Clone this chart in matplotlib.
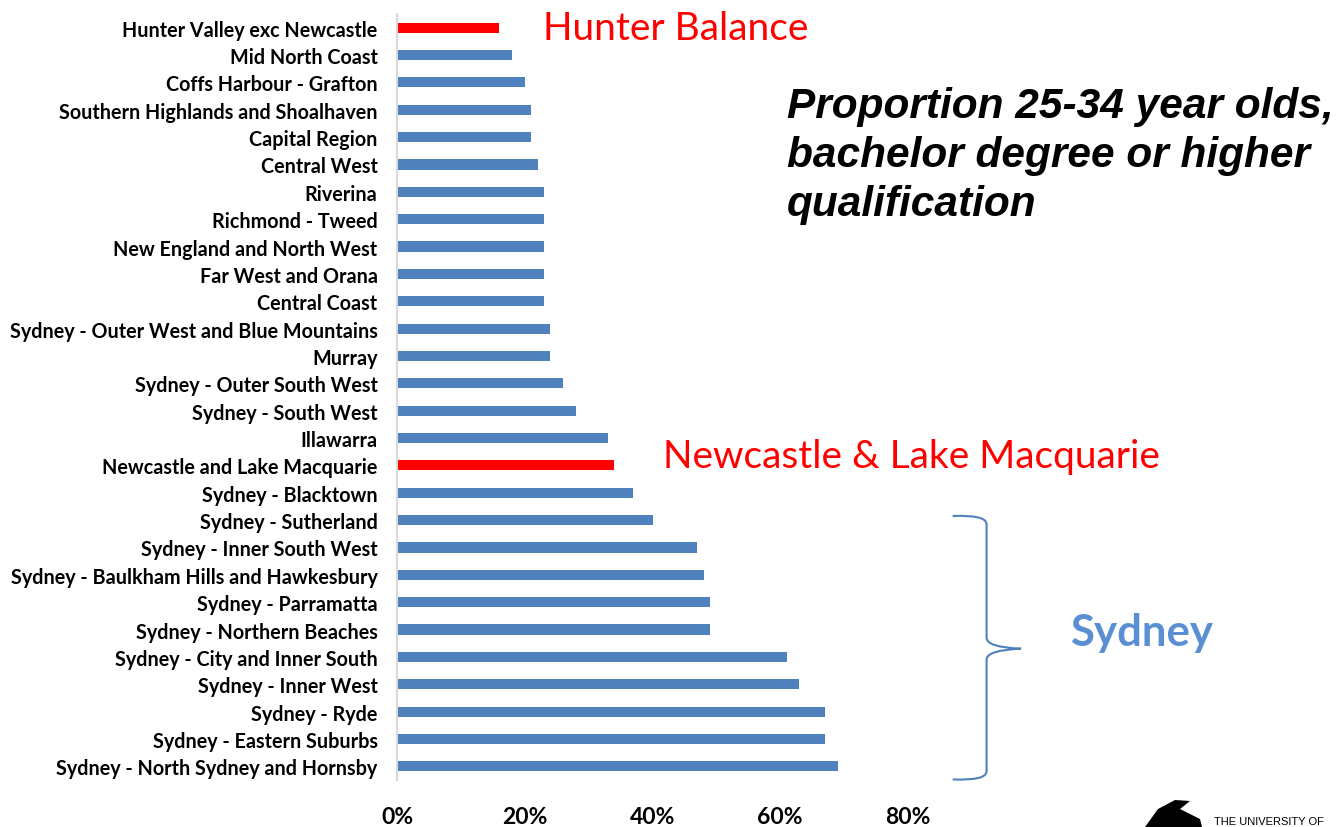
import numpy as np
import matplotlib.pyplot as plt
from matplotlib.path import Path
from matplotlib.patches import PathPatch, Polygon

# ==========================================
# Data (top to bottom, as shown)
# ==========================================
regions = [
    "Hunter Valley exc Newcastle",
    "Mid North Coast",
    "Coffs Harbour - Grafton",
    "Southern Highlands and Shoalhaven",
    "Capital Region",
    "Central West",
    "Riverina",
    "Richmond - Tweed",
    "New England and North West",
    "Far West and Orana",
    "Central Coast",
    "Sydney - Outer West and Blue Mountains",
    "Murray",
    "Sydney - Outer South West",
    "Sydney - South West",
    "Illawarra",
    "Newcastle and Lake Macquarie",
    "Sydney - Blacktown",
    "Sydney - Sutherland",
    "Sydney - Inner South West",
    "Sydney - Baulkham Hills and Hawkesbury",
    "Sydney - Parramatta",
    "Sydney - Northern Beaches",
    "Sydney - City and Inner South",
    "Sydney - Inner West",
    "Sydney - Ryde",
    "Sydney - Eastern Suburbs",
    "Sydney - North Sydney and Hornsby",
]
share = [
    0.16, 0.18, 0.20, 0.21, 0.21, 0.22, 0.23, 0.23, 0.23, 0.23,
    0.23, 0.24, 0.24, 0.26, 0.28, 0.33, 0.34, 0.37, 0.40, 0.47,
    0.48, 0.49, 0.49, 0.61, 0.63, 0.67, 0.67, 0.69,
]
highlight = ["Hunter Valley exc Newcastle", "Newcastle and Lake Macquarie"]
x_ticks = [0.0, 0.2, 0.4, 0.6, 0.8]

BLUE = "#4F81BD"
RED = "#FF0000"
LABEL_FONT = "Lato"

# ==========================================
# Figure
# ==========================================
fig = plt.figure(figsize=(13.37, 8.28), dpi=100)
ax = fig.add_axes([397 / 1337, 1 - 781 / 828, (908 - 397) / 1337, (781 - 15) / 828])

y = np.arange(len(regions))
colors = [RED if r in highlight else BLUE for r in regions]
ax.barh(y, share, height=0.37, color=colors)

ax.set_ylim(len(regions) - 0.5, -0.5)
ax.set_xlim(0, 0.8)
ax.set_yticks(y)
ax.set_yticklabels(regions, fontsize=14.2, fontweight="bold", family=LABEL_FONT)
ax.set_xticks(x_ticks)
ax.set_xticklabels([f"{int(t * 100)}%" for t in x_ticks],
                   fontsize=16.5, fontweight="bold", family=LABEL_FONT)
ax.tick_params(axis="y", length=0, pad=14)
ax.tick_params(axis="x", length=0, pad=19)

for side in ["top", "right", "bottom"]:
    ax.spines[side].set_visible(False)
ax.spines["left"].set_color("#D9D9D9")
ax.spines["left"].set_linewidth(1.5)

# ==========================================
# Annotations
# ==========================================
ax.text(0.228, 0, "Hunter Balance", color=RED, fontsize=28, family=LABEL_FONT,
        va="center", ha="left", clip_on=False)
ax.text(0.416, 16 - 0.35, "Newcastle & Lake Macquarie", color=RED, fontsize=28,
        family=LABEL_FONT, va="center", ha="left", clip_on=False)
ax.text(1.166, 22.1, "Sydney", color="#5B8FD4", fontsize=31.5, fontweight="bold",
        family=LABEL_FONT, va="center", ha="center", clip_on=False)

# curly brace next to the Sydney regions
x0, xm, xt = 0.87, 0.923, 0.977
yt, ym, yb = 17.85, 22.7, 27.48
verts = [
    (x0, yt), (xm, yt - 0.05), (xm, yt + 0.3), (xm, yt + 0.5),
    (xm, ym - 0.4), (xm, ym - 0.05), (xt, ym),
    (xm, ym + 0.05), (xm, ym + 0.4),
    (xm, yb - 0.5), (xm, yb - 0.3), (xm, yb + 0.05), (x0, yb),
]
codes = [Path.MOVETO, Path.CURVE3, Path.CURVE3, Path.LINETO,
         Path.LINETO, Path.CURVE3, Path.CURVE3,
         Path.CURVE3, Path.CURVE3,
         Path.LINETO, Path.LINETO, Path.CURVE3, Path.CURVE3]
ax.add_patch(PathPatch(Path(verts, codes), facecolor="none", edgecolor=BLUE,
                       linewidth=1.5, clip_on=False))

fig.text(787 / 1337, 1 - 87 / 828,
         "Proportion 25-34 year olds,\nbachelor degree or higher\nqualification",
         fontsize=30.5, fontweight="bold", fontstyle="italic",
         family="Liberation Sans", va="top", ha="left", linespacing=1.29)

# university logo (rough)
fig.patches.append(Polygon(
    [(1145 / 1337, 0), (1158 / 1337, 18 / 828), (1175 / 1337, 27 / 828),
     (1190 / 1337, 26 / 828), (1180 / 1337, 18 / 828), (1200 / 1337, 8 / 828),
     (1202 / 1337, 0)],
    closed=True, transform=fig.transFigure, facecolor="black", figure=fig))
fig.text(1214 / 1337, 1 - 822 / 828, "THE UNIVERSITY OF", fontsize=8,
         family="Liberation Sans", va="center", ha="left")

fig.savefig("out.png", dpi=100)
